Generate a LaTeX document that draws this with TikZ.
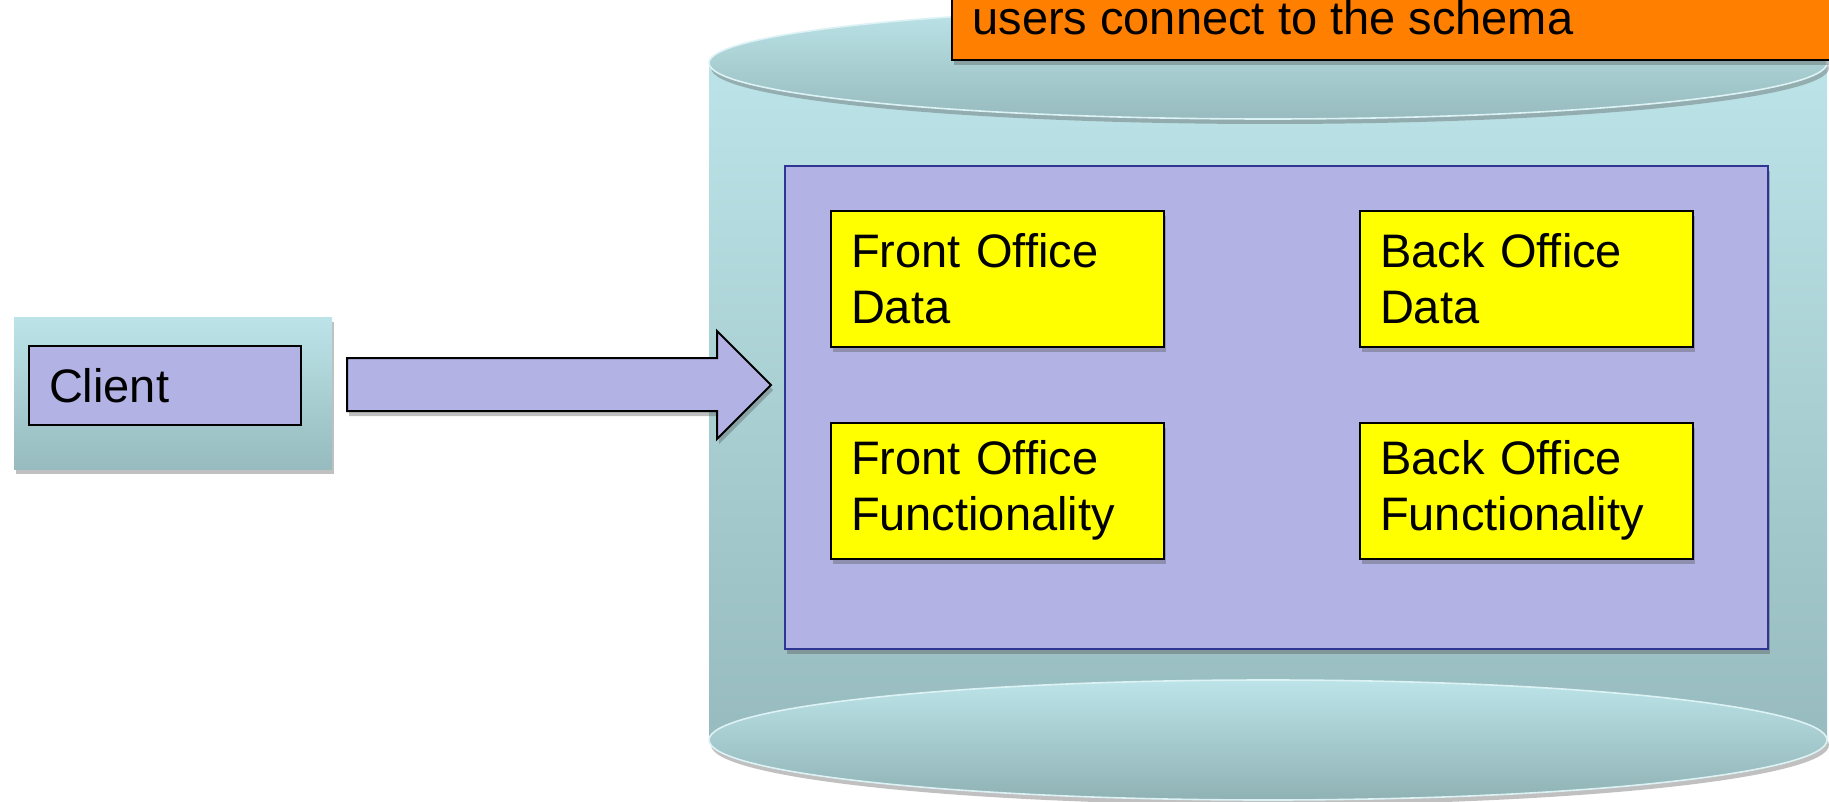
\documentclass[tikz,border=0pt]{standalone}
\usepackage{fontspec}
\setmainfont{Liberation Sans}
\usetikzlibrary{shadows}
\definecolor{tealL}{HTML}{BCE4E8}
\definecolor{tealD}{HTML}{97BBBE}
\definecolor{purp}{HTML}{B2B2E4}
\definecolor{navy}{HTML}{2E3592}
\definecolor{orangeC}{HTML}{FF7F00}
\definecolor{yel}{HTML}{FFFF00}
\definecolor{rimC}{HTML}{DDF2F4}
\tikzset{
  softshadow/.style={drop shadow={shadow xshift=1pt, shadow yshift=-2.5pt, opacity=0.35, fill=black!70}},
  tealgrad/.style={top color=tealL, bottom color=tealD},
  ybox/.style={draw=black, line width=1pt, fill=yel, minimum height=68pt, text width=146.5pt,
    inner xsep=10pt, inner ysep=0pt, align=left, font=\fontsize{23.5pt}{28pt}\selectfont, softshadow},
  lbl/.style={font=\fontsize{23.5pt}{28pt}\selectfont, inner sep=0pt}
}
\begin{document}
\begin{tikzpicture}[x=0.5pt,y=-0.5pt]
\useasboundingbox (0,0) rectangle (1829,802);
\fill[white] (0,0) rectangle (1829,802);
% cylinder body
\shade[tealgrad] (709,63) rectangle (1827,740);
% bottom ellipse
\shade[top color=tealL, bottom color=tealD!95!black, draw=rimC, line width=0.8pt, softshadow] (1268,740) ellipse [x radius=559, y radius=60];
% top ellipse
\shade[top color=tealL, bottom color=tealD, draw=rimC, line width=0.8pt, softshadow] (1268,63) ellipse [x radius=559, y radius=56];
% orange label
\fill[orangeC, draw=black, line width=1pt, softshadow] (952,-20) rectangle (1840,60);
\node[lbl, anchor=base west] (note) at (972,35) {users connect to the schema};
% schema box
\node[draw=navy, line width=1pt, fill=purp, minimum width=491.5pt, minimum height=241.5pt, inner sep=0pt, softshadow] (schema) at (1276.5,407.5) {};
\node[ybox] (fod) at (997.5,279) {Front Office\\Data};
\node[ybox] (bod) at (1526.5,279) {Back Office\\Data};
\node[ybox] (fof) at (997.5,490.5) {Front Office\\Functionality};
\node[ybox] (bof) at (1526.5,490.5) {Back Office\\Functionality};
% client
\node[tealgrad, minimum width=159pt, minimum height=76pt, inner sep=0pt, softshadow] (clientbg) at (173,393) {};
\node[draw=black, line width=1pt, fill=purp, minimum width=136pt, minimum height=39.5pt, text width=116pt,
  inner xsep=10pt, inner ysep=0pt, align=left, font=\fontsize{23.5pt}{28pt}\selectfont] (client) at (165,385.5) {Client};
% block arrow
\coordinate (a0) at (347,358);
\coordinate (tip) at (771,385);
\filldraw[fill=purp, draw=black, line width=1pt, softshadow]
  (a0) -- (717,358) -- (717,331) -- (tip) -- (717,439) -- (717,411) -- (347,411) -- cycle;
\end{tikzpicture}
\end{document}
